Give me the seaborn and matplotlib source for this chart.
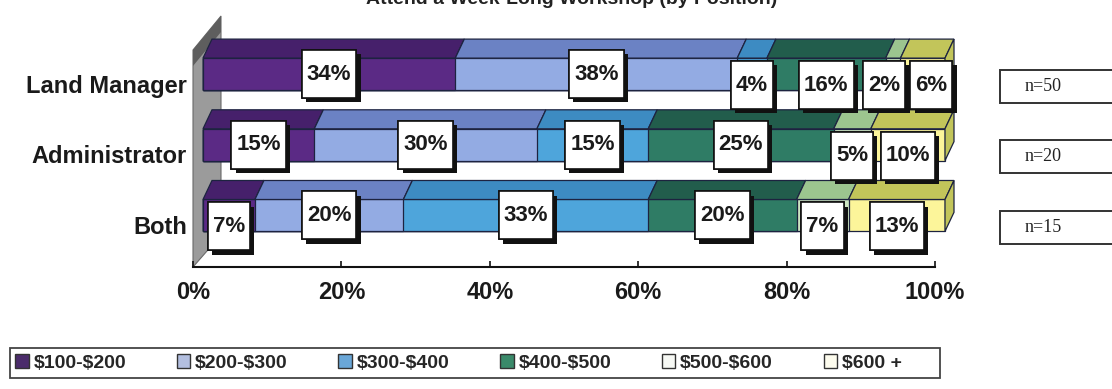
import numpy as np
import pandas as pd
import matplotlib
matplotlib.use("Agg")
import matplotlib.pyplot as plt
import seaborn as sns
from matplotlib.patches import Polygon, Rectangle
from matplotlib.transforms import ScaledTranslation, blended_transform_factory, IdentityTransform
import matplotlib.patheffects as pe

# ---- data -------------------------------------------------------------
positions = ["Land Manager", "Administrator", "Both"]
tiers = ["$100-$200", "$200-$300", "$300-$400", "$400-$500", "$500-$600", "$600 +"]
land_manager = [34, 38, 4, 16, 2, 6]
administrator = [15, 30, 15, 25, 5, 10]
both = [7, 20, 33, 20, 7, 13]
sample_sizes = [50, 20, 15]
x_ticks = [0, 20, 40, 60, 80, 100]
title = "Attend a Week-Long Workshop (by Position)"

# ---- styling ----------------------------------------------------------
front_colors = ["#5b2a85", "#93abe3", "#4ea5db", "#2f7c65", "#cde6c2", "#fcf59a"]
top_colors = ["#46206b", "#6b82c4", "#3d8bc2", "#225d4c", "#9cc58f", "#c2c55a"]
legend_colors = ["#4b2c6b", "#b3bfe0", "#6aa7d8", "#3a8a6a", "#f7f9f5", "#fdfcee"]
edge = "#1d2340"

sns.set_theme(style="white")
plt.rcParams["font.family"] = ["Liberation Sans", "DejaVu Sans"]
plt.rcParams["text.parse_math"] = False

W, H, DPI = 1112, 389, 100
fig = plt.figure(figsize=(W / DPI, H / DPI), dpi=DPI)
fig.patch.set_facecolor("white")


def px_rect(left, top, right, bottom):
    return [left / W, 1 - bottom / H, (right - left) / W, (bottom - top) / H]


def px_pt(x, y):
    return (x / W, 1 - y / H)


AX_L, AX_T, AX_R, AX_B = 193, 20, 935, 267
ax = fig.add_axes(px_rect(AX_L, AX_T, AX_R, AX_B))
ax.patch.set_alpha(0)

# long-form table with cumulative right edges per position
rows = []
for pos, vals in zip(positions, [land_manager, administrator, both]):
    cum = np.cumsum(vals)
    for tier, v, c in zip(tiers, vals, cum):
        rows.append({"position": pos, "tier": tier, "share": v, "right": c, "left": c - v})
df = pd.DataFrame(rows)

BAR_H = 0.45
for i in reversed(range(len(tiers))):
    sub = df[df["tier"] == tiers[i]]
    sns.barplot(data=sub, x="right", y="position", order=positions, orient="h",
                color=front_colors[i], saturation=1, width=BAR_H, errorbar=None,
                edgecolor=edge, linewidth=0.9, ax=ax)

YLIM = (2.730, -0.764)
ax.set_xlim(0, 100)
ax.set_ylim(*YLIM)

ppx = (AX_R - AX_L) / 100.0
ppy = (AX_B - AX_T) / (YLIM[0] - YLIM[1])
SHIFT_PX = 10
bar_tr = ax.transData + ScaledTranslation(SHIFT_PX / DPI, 0, fig.dpi_scale_trans)
for p in ax.patches:
    p.set_transform(bar_tr)
    p.set_clip_on(False)

# depth faces on top of each segment
ddx = 9 / ppx
ddy = 19 / ppy
for j, pos in enumerate(positions):
    sub = df[df["position"] == pos]
    y_top = j - BAR_H / 2
    for i, (_, r) in enumerate(sub.iterrows()):
        pts = [(r["left"], y_top), (r["right"], y_top),
               (r["right"] + ddx, y_top - ddy), (r["left"] + ddx, y_top - ddy)]
        ax.add_patch(Polygon(pts, closed=True, facecolor=top_colors[i], edgecolor=edge,
                             linewidth=0.9, transform=bar_tr, zorder=2, clip_on=False))
    last = sub.iloc[-1]
    side = [(last["right"], y_top), (last["right"] + ddx, y_top - ddy),
            (last["right"] + ddx, y_top - ddy + BAR_H), (last["right"], y_top + BAR_H)]
    ax.add_patch(Polygon(side, closed=True, facecolor=top_colors[-1], edgecolor=edge,
                         linewidth=0.9, transform=bar_tr, zorder=2, clip_on=False))

# side wall on the left
wall = Polygon([px_pt(193, 267), px_pt(193, 50), px_pt(221, 16), px_pt(221, 235)],
               closed=True, facecolor="#9b9b9b", edgecolor="#6a6a6a", linewidth=0.8,
               transform=fig.transFigure, zorder=0.5, clip_on=False)
ax.add_patch(wall)
cap = Polygon([px_pt(193, 50), px_pt(221, 16), px_pt(221, 32), px_pt(193, 66)],
              closed=True, facecolor="#5e5e5e", edgecolor="none",
              transform=fig.transFigure, zorder=0.6, clip_on=False)
ax.add_patch(cap)


# value labels, spread apart where neighbours collide
def spread(centers, widths, gap, lo):
    pos = list(centers)
    for _ in range(100):
        if pos[0] - widths[0] / 2 < lo:
            pos[0] = lo + widths[0] / 2
        for k in range(len(pos) - 1):
            need = (widths[k] + widths[k + 1]) / 2 + gap
            d = pos[k + 1] - pos[k]
            if d < need - 1e-9:
                push = (need - d) / 2
                pos[k] -= push
                pos[k + 1] += push
    return pos


LABEL_FS = 16
BOX_PAD_X, BOX_H = 5, 48
label_texts = []
for j, pos in enumerate(positions):
    sub = df[df["position"] == pos]
    shares = list(sub["share"])
    texts = [f"{v}%" for v in shares]
    centers = list((sub["left"] + sub["right"]) / 2)
    widths = [(12.5 * len(t) + 2 * BOX_PAD_X + 8) / ppx for t in texts]
    xs = spread(centers, widths, 4 / ppx, 0.3)
    # narrow segments sit lower; a crowded neighbour follows them down
    low = [s < 15 for s in shares]
    for _ in range(len(xs)):
        for k in range(len(xs) - 1):
            gap_px = (xs[k + 1] - widths[k + 1] / 2 - (xs[k] + widths[k] / 2)) * ppx
            if gap_px < 12 and (low[k] or low[k + 1]):
                low[k] = low[k + 1] = True
    for x, t, lo_ in zip(xs, texts, low):
        dy = -11 if lo_ else 0
        tr = ax.transData + ScaledTranslation(SHIFT_PX / DPI, dy / DPI, fig.dpi_scale_trans)
        txt = ax.text(x, j, t, ha="center", va="center", fontsize=LABEL_FS,
                      fontweight="bold", color="#1a1a1a", transform=tr, zorder=6,
                      clip_on=False)
        label_texts.append(txt)

# white boxes with a drop shadow behind each value label
fig.canvas.draw()
renderer = fig.canvas.get_renderer()
for txt in label_texts:
    bb = txt.get_window_extent(renderer)
    cx, cy = txt.get_transform().transform(txt.get_position())
    w = bb.width + 2 * BOX_PAD_X
    box = Rectangle((cx - w / 2, cy - BOX_H / 2), w, BOX_H, transform=IdentityTransform(),
                    facecolor="white", edgecolor="#111111", linewidth=1.2, zorder=5,
                    clip_on=False)
    box.set_path_effects([pe.withSimplePatchShadow(offset=(3, -3), shadow_rgbFace="#111111",
                                                   alpha=1.0), pe.Normal()])
    ax.add_patch(box)

# category labels
cat_tr = blended_transform_factory(ax.transAxes, ax.transData) + \
    ScaledTranslation(0, -12 / DPI, fig.dpi_scale_trans)
for j, pos in enumerate(positions):
    ax.text(-6 / (AX_R - AX_L), j, pos, ha="right", va="center", fontsize=17,
            fontweight="bold", color="#1a1a1a", transform=cat_tr, clip_on=False)
ax.set_yticks([])
ax.set_ylabel("")
ax.set_xlabel("")

# x axis
for s in ["top", "right", "left"]:
    ax.spines[s].set_visible(False)
ax.spines["bottom"].set_color("#111111")
ax.spines["bottom"].set_linewidth(1.5)
ax.set_xticks(x_ticks)
ax.set_xticklabels([f"{t}%" for t in x_ticks], fontsize=17, fontweight="bold", color="#1a1a1a")
ax.tick_params(axis="x", direction="in", length=4, width=1.2, color="#111111", pad=10,
               bottom=True)

# sample size boxes at the right
n_tr = blended_transform_factory(fig.transFigure, ax.transData) + \
    ScaledTranslation(0, -12 / DPI, fig.dpi_scale_trans)
box_h = 33 / ppy
for j, n in enumerate(sample_sizes):
    ax.add_patch(Rectangle((1000 / W, j - box_h / 2), 130 / W, box_h, facecolor="white",
                           edgecolor="#333333", linewidth=1.4, transform=n_tr, clip_on=False,
                           zorder=3))
    ax.text(1043 / W, j, f"n={n}", ha="center", va="center", fontsize=13,
            family=["Liberation Serif", "DejaVu Serif"], color="#222222",
            transform=n_tr, clip_on=False, zorder=4)

# legend inside a drawn frame
fig.add_artist(Rectangle(px_pt(10, 378), 930 / W, 30 / H, transform=fig.transFigure,
                         facecolor="white", edgecolor="#444444", linewidth=1.3, zorder=1))
handles = [Rectangle((0, 0), 1, 1, facecolor=c, edgecolor="#333333", linewidth=1.0)
           for c in legend_colors]
leg = fig.legend(handles, tiers, loc="center left", ncol=6,
                 bbox_to_anchor=px_pt(11, 363), borderaxespad=0, borderpad=0.2,
                 frameon=False, handlelength=0.7, handleheight=0.7, handletextpad=0.25,
                 columnspacing=2.6, prop={"weight": "bold", "size": 14})
leg.set_zorder(2)

# title, partly cut by the top edge
fig.text(572 / W, 1 - 4 / H, title, ha="center", va="baseline", fontsize=14,
         fontweight="bold", color="#222222")

fig.savefig("out.png", dpi=DPI, facecolor="white")
